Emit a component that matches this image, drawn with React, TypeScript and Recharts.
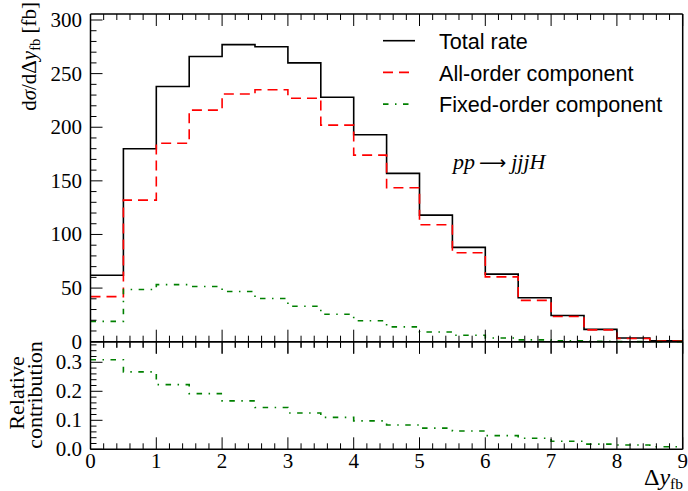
import React from 'react';
import { ComposedChart, LineChart, Line, XAxis, YAxis, Legend } from 'recharts';

// ---- data ----
const binEdges = [0, 0.5, 1, 1.5, 2, 2.5, 3, 3.5, 4, 4.5, 5, 5.5, 6, 6.5, 7, 7.5, 8, 8.5, 9];
const totalRate = [62, 180, 238, 266, 277, 275, 260, 228, 193, 157, 118, 88, 63, 41, 24.5, 11.5, 3.5, 0.8];
const allOrder = [42, 132, 185, 216, 231, 235, 227, 202, 174, 143.5, 109, 83, 60.5, 38.5, 23.5, 11, 3, 0.7];
const fixedOrder = [19, 48.7, 53.2, 51.5, 46.8, 40.3, 33, 25.6, 19.5, 13.8, 9, 6, 3.5, 1.7, 0.8, 0.3, 0.1, 0.03];
const relativeContribution = [0.309, 0.267, 0.223, 0.192, 0.167, 0.144, 0.125, 0.11, 0.098, 0.084, 0.073, 0.063, 0.047, 0.038, 0.028, 0.018, 0.015, 0.009];

const xMajorTicks = [0, 1, 2, 3, 4, 5, 6, 7, 8, 9];
const yTopMajorTicks = [0, 50, 100, 150, 200, 250, 300];
const yBottomMajorTicks = [0, 0.1, 0.2, 0.3];
const yBottomTickLabels = ['0.0', '0.1', '0.2', '0.3'];

const seriesNames = ['Total rate', 'All-order component', 'Fixed-order component'];

// ---- style config ----
const SERIES = [
  { key: 'total', name: seriesNames[0], color: '#000000', dash: undefined as string | undefined },
  { key: 'all', name: seriesNames[1], color: '#ff0000', dash: '10 6' },
  { key: 'fixed', name: seriesNames[2], color: '#008000', dash: '5.5 6.5 1.5 6.5' },
];

const SERIF = '"Liberation Serif", "Times New Roman", serif';
const SANS = '"Liberation Sans", Arial, sans-serif';

// ---- tables ----
const last = totalRate.length - 1;
const topData = binEdges.map((x, i) => {
  const k = Math.min(i, last);
  return { x, total: totalRate[k], all: allOrder[k], fixed: fixedOrder[k] };
});
const bottomData = binEdges.map((x, i) => ({ x, rel: relativeContribution[Math.min(i, last)] }));

// tick lists with minor subdivisions
function withMinor(majors: number[], parts: number, upTo: number) {
  const step = (majors[1] - majors[0]) / parts;
  const out: number[] = [];
  for (let i = 0; majors[0] + i * step <= upTo + 1e-9; i++) out.push(+(majors[0] + i * step).toFixed(6));
  return out;
}
const isMajor = (v: number, majors: number[]) => majors.some((m) => Math.abs(m - v) < 1e-6);

const X_DOMAIN: [number, number] = [0, 9];
const TOP_DOMAIN: [number, number] = [0, 305.6];
const BOT_DOMAIN: [number, number] = [0, 0.371];

const xTicks = withMinor(xMajorTicks, 5, 9);
const yTopTicks = withMinor(yTopMajorTicks, 5, 305);
const yBotTicks = withMinor(yBottomMajorTicks, 5, 0.37);

const MAJOR_LEN = 12;
const MINOR_LEN = 6;

// dirs: list of directions (+1 down, -1 up) in which tick marks are drawn
const makeXTick = (dirs: number[], showLabel: boolean) => (props: any) => {
  const { x, y, payload } = props;
  const v = payload.value as number;
  const major = isMajor(v, xMajorTicks);
  const len = major ? MAJOR_LEN : MINOR_LEN;
  return (
    <g>
      {dirs.map((d) => (
        <line key={d} x1={x} x2={x} y1={y} y2={y + d * len} stroke="#000" strokeWidth={1} />
      ))}
      {showLabel && major ? (
        <text x={x} y={y + 19} textAnchor="middle" fontFamily={SERIF} fontSize={21} fill="#000">
          {String(Math.round(v))}
        </text>
      ) : null}
    </g>
  );
};

const makeYTick = (dir: number, majors: number[], labels: string[] | null) => (props: any) => {
  const { x, y, payload } = props;
  const v = payload.value as number;
  const major = isMajor(v, majors);
  const len = major ? MAJOR_LEN : MINOR_LEN;
  const idx = majors.findIndex((m) => Math.abs(m - v) < 1e-6);
  return (
    <g>
      <line x1={x} x2={x + dir * len} y1={y} y2={y} stroke="#000" strokeWidth={1} />
      {labels && major ? (
        <text x={x - 8.5} y={y + 7} textAnchor="end" fontFamily={SERIF} fontSize={21} fill="#000">
          {labels[idx]}
        </text>
      ) : null}
    </g>
  );
};

const topLabels = yTopMajorTicks.map((v) => String(v));

const renderLegend = () => (
  <svg width={310} height={95} style={{ display: 'block' }}>
    {SERIES.map((s, i) => (
      <g key={s.key}>
        <line
          x1={13}
          x2={45}
          y1={15.7 + i * 31.7}
          y2={15.7 + i * 31.7}
          stroke={s.color}
          strokeWidth={1.6}
          strokeDasharray={s.dash}
        />
        <text x={69} y={24 + i * 31.7} fontFamily={SANS} fontSize={21.6} fill="#000">
          {s.name}
        </text>
      </g>
    ))}
  </svg>
);

const AXIS_LINE = { stroke: '#000', strokeWidth: 1.5 };

export default function App() {
  return (
    <div style={{ position: 'absolute', left: 0, top: 0, width: 688, height: 491, background: '#fff' }}>
      <div style={{ position: 'absolute', left: 0, top: 340 }}>
        <LineChart width={688} height={151} data={bottomData} margin={{ top: 0, right: 0.3, bottom: 0, left: 30.5 }}>
          <XAxis
            xAxisId="b"
            dataKey="x"
            type="number"
            domain={X_DOMAIN}
            ticks={xTicks}
            interval={0}
            height={41.7}
            tickSize={0}
            tickMargin={0}
            tickLine={false}
            axisLine={AXIS_LINE}
            tick={makeXTick([-1], true)}
          />
          <XAxis
            xAxisId="t"
            orientation="top"
            dataKey="x"
            type="number"
            domain={X_DOMAIN}
            ticks={xTicks}
            interval={0}
            height={1.7}
            tickSize={0}
            tickMargin={0}
            tickLine={false}
            axisLine={AXIS_LINE}
            tick={makeXTick([1], false)}
          />
          <YAxis
            yAxisId="l"
            type="number"
            domain={BOT_DOMAIN}
            ticks={yBotTicks}
            interval={0}
            width={60}
            tickSize={0}
            tickMargin={0}
            tickLine={false}
            axisLine={AXIS_LINE}
            tick={makeYTick(1, yBottomMajorTicks, yBottomTickLabels)}
          />
          <YAxis
            yAxisId="r"
            orientation="right"
            type="number"
            domain={BOT_DOMAIN}
            ticks={yBotTicks}
            interval={0}
            width={5}
            tickSize={0}
            tickMargin={0}
            tickLine={false}
            axisLine={AXIS_LINE}
            tick={makeYTick(-1, yBottomMajorTicks, null)}
          />
          <Line
            xAxisId="b"
            yAxisId="l"
            dataKey="rel"
            name="Relative contribution"
            type="stepAfter"
            stroke={SERIES[2].color}
            strokeWidth={1.6}
            strokeDasharray={SERIES[2].dash}
            dot={false}
            activeDot={false}
            isAnimationActive={false}
          />
        </LineChart>
      </div>
      <div style={{ position: 'absolute', left: 0, top: 0 }}>
        <ComposedChart width={688} height={356} data={topData} margin={{ top: 10, right: 0.3, bottom: 13, left: 30.5 }}>
          <XAxis
            xAxisId="b"
            dataKey="x"
            type="number"
            domain={X_DOMAIN}
            ticks={xTicks}
            interval={0}
            height={1.3}
            tickSize={0}
            tickMargin={0}
            tickLine={false}
            axisLine={AXIS_LINE}
            tick={makeXTick([-1, 1], false)}
          />
          <XAxis
            xAxisId="t"
            orientation="top"
            dataKey="x"
            type="number"
            domain={X_DOMAIN}
            ticks={xTicks}
            interval={0}
            height={4}
            tickSize={0}
            tickMargin={0}
            tickLine={false}
            axisLine={AXIS_LINE}
            tick={makeXTick([1], false)}
          />
          <YAxis
            yAxisId="l"
            type="number"
            domain={TOP_DOMAIN}
            ticks={yTopTicks}
            interval={0}
            width={60}
            tickSize={0}
            tickMargin={0}
            tickLine={false}
            axisLine={AXIS_LINE}
            tick={makeYTick(1, yTopMajorTicks, topLabels)}
          />
          <YAxis
            yAxisId="r"
            orientation="right"
            type="number"
            domain={TOP_DOMAIN}
            ticks={yTopTicks}
            interval={0}
            width={5}
            tickSize={0}
            tickMargin={0}
            tickLine={false}
            axisLine={AXIS_LINE}
            tick={makeYTick(-1, yTopMajorTicks, null)}
          />
          <Legend
            layout="vertical"
            align="center"
            verticalAlign="middle"
            wrapperStyle={{ position: 'absolute', left: 370, top: 25, width: 310, height: 95, margin: 0 }}
            content={renderLegend}
          />
          {SERIES.map((s) => (
            <Line
              key={s.key}
              xAxisId="b"
              yAxisId="l"
              dataKey={s.key}
              name={s.name}
              type="stepAfter"
              stroke={s.color}
              strokeWidth={1.6}
              strokeDasharray={s.dash}
              dot={false}
              activeDot={false}
              isAnimationActive={false}
            />
          ))}
        </ComposedChart>
      </div>
      <svg
        width={688}
        height={491}
        style={{ position: 'absolute', left: 0, top: 0, pointerEvents: 'none' }}
      >
        <text transform="translate(36,2) rotate(-90)" textAnchor="end" fontFamily={SERIF} fontSize={21} fill="#000">
          d<tspan fontStyle="italic">σ</tspan>/dΔ<tspan fontStyle="italic">y</tspan>
          <tspan fontSize={14.5} dy={4}>fb</tspan>
          <tspan dy={-4}> [fb]</tspan>
        </text>
        <text transform="translate(24,393) rotate(-90)" textAnchor="middle" fontFamily={SERIF} fontSize={22} fill="#000">
          Relative
        </text>
        <text transform="translate(42,395) rotate(-90)" textAnchor="middle" fontFamily={SERIF} fontSize={22} fill="#000">
          contribution
        </text>
        <text x={683} y={485} textAnchor="end" fontFamily={SERIF} fontSize={24} fill="#000">
          Δ<tspan fontStyle="italic">y</tspan>
          <tspan fontSize={15.5} dy={4}>fb</tspan>
        </text>
        <text x={453} y={169} fontFamily={SERIF} fontSize={22} fill="#000">
          <tspan fontStyle="italic">pp</tspan>
          <tspan fontFamily='"DejaVu Sans", sans-serif' fontSize={19} dx={4}>⟶</tspan>
          <tspan fontStyle="italic" dx={5}>jjjH</tspan>
        </text>
      </svg>
    </div>
  );
}
